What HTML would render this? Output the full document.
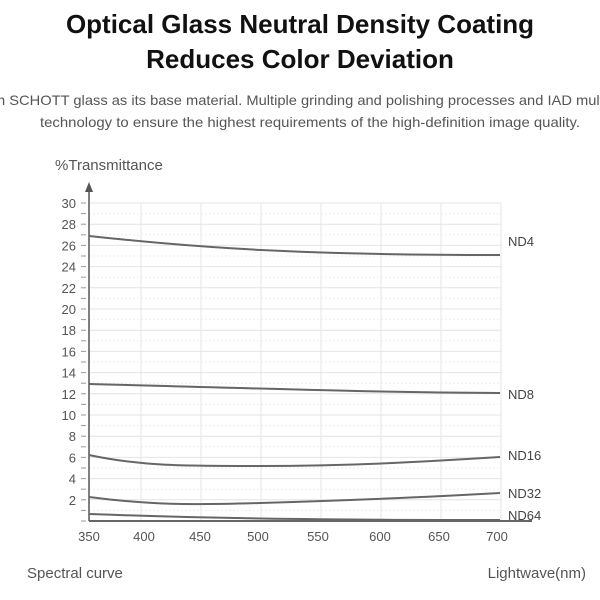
<!DOCTYPE html>
<html><head><meta charset="utf-8"><style>
html,body{margin:0;padding:0;background:#fff;width:600px;height:600px;overflow:hidden}
svg{display:block}
</style></head><body>
<svg width="600" height="600" xmlns="http://www.w3.org/2000/svg" font-family="'Liberation Sans', 'DejaVu Sans', sans-serif">
<text x="300" y="33" text-anchor="middle" font-size="26" font-weight="bold" fill="#111">Optical Glass Neutral Density Coating</text>
<text x="300" y="68" text-anchor="middle" font-size="26" font-weight="bold" fill="#111">Reduces Color Deviation</text>
<text x="-3" y="105" font-size="14" fill="#555" textLength="610" lengthAdjust="spacingAndGlyphs">n SCHOTT glass as its base material. Multiple grinding and polishing processes and IAD multi</text>
<text x="40" y="127" font-size="14" fill="#555" textLength="540" lengthAdjust="spacingAndGlyphs">technology to ensure the highest requirements of the high-definition image quality.</text>
<text x="55" y="170" font-size="15" fill="#555">%Transmittance</text>
<g stroke="#e6e6e6" stroke-width="1">
<line x1="141" y1="203" x2="141" y2="521"/><line x1="201" y1="203" x2="201" y2="521"/>
<line x1="261" y1="203" x2="261" y2="521"/><line x1="321" y1="203" x2="321" y2="521"/>
<line x1="381" y1="203" x2="381" y2="521"/><line x1="441" y1="203" x2="441" y2="521"/>
<line x1="501" y1="203" x2="501" y2="521"/>
</g>
<g id="grid"></g>
<g font-size="13" fill="#555" text-anchor="end" id="ylab"></g>
<line x1="89" y1="190" x2="89" y2="521" stroke="#555" stroke-width="1.5"/>
<polygon points="89,182 85,192 93,192" fill="#555"/>
<line x1="89" y1="521" x2="532" y2="521" stroke="#666" stroke-width="2"/>
<g fill="none" stroke="#666" stroke-width="2">
<path d="M89,236 C200,248 300,255 500,255"/>
<path d="M89,384 C250,388 350,392 500,393"/>
<path d="M89,455 C140,466 180,466 260,466 C350,466 420,462 500,457"/>
<path d="M89,497 C150,505 190,505 260,503 C360,500 430,497 500,493"/>
<path d="M89,514 C200,518 300,520 500,520"/>
</g>
<g font-size="13" fill="#444">
<text x="508" y="246">ND4</text><text x="508" y="399">ND8</text>
<text x="508" y="460">ND16</text><text x="508" y="498">ND32</text><text x="508" y="520">ND64</text>
</g>
<g font-size="13" fill="#555" text-anchor="middle">
<text x="89" y="541">350</text><text x="144" y="541">400</text><text x="200" y="541">450</text>
<text x="258" y="541">500</text><text x="318" y="541">550</text><text x="380" y="541">600</text>
<text x="439" y="541">650</text><text x="497" y="541">700</text>
</g>
<text x="27" y="578" font-size="15" fill="#555">Spectral curve</text>
<text x="586" y="578" font-size="15" fill="#555" text-anchor="end">Lightwave(nm)</text>
<script>
var g=document.getElementById('grid'),yl=document.getElementById('ylab'),ns='http://www.w3.org/2000/svg';
for(var v=1;v<=30;v++){var y=521-v*10.6;var l=document.createElementNS(ns,'line');
l.setAttribute('x1',89);l.setAttribute('x2',501);l.setAttribute('y1',y);l.setAttribute('y2',y);
l.setAttribute('stroke',v%2?'#eeeeee':'#e4e4e4');if(v%2)l.setAttribute('stroke-dasharray','2,2');g.appendChild(l);
var t=document.createElementNS(ns,'line');t.setAttribute('x1',81);t.setAttribute('x2',86);t.setAttribute('y1',y);t.setAttribute('y2',y);t.setAttribute('stroke','#999');g.appendChild(t);
if(v%2==0){var tx=document.createElementNS(ns,'text');tx.setAttribute('x',76);tx.setAttribute('y',y+5);tx.textContent=v;yl.appendChild(tx);}}
var t0=document.createElementNS(ns,'line');t0.setAttribute('x1',81);t0.setAttribute('x2',86);t0.setAttribute('y1',521);t0.setAttribute('y2',521);t0.setAttribute('stroke','#999');g.appendChild(t0);
</script>
</svg>
</body></html>
